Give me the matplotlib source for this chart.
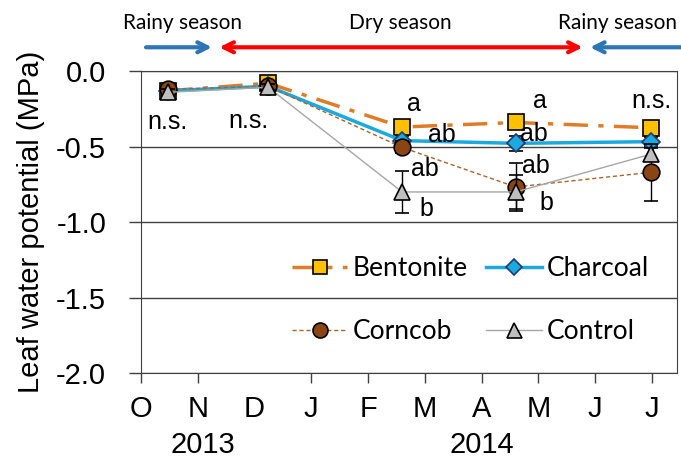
import numpy as np
import matplotlib.pyplot as plt
import matplotlib.transforms as mtransforms

# sampling dates, in months counted from 1 Oct 2013
meses_amostra = [0.48, 2.24, 4.6, 6.6, 8.98]

bentonite = [-0.13, -0.08, -0.37, -0.34, -0.375]
bentonite_err = [0.02, 0.02, 0.03, 0.03, 0.03]
charcoal = [-0.13, -0.10, -0.46, -0.478, -0.467]
charcoal_err = [0.02, 0.02, 0.03, 0.05, 0.03]
corncob = [-0.12, -0.10, -0.505, -0.767, -0.67]
corncob_err = [0.02, 0.02, 0.04, 0.16, 0.19]
control = [-0.14, -0.107, -0.80, -0.80, -0.55]
control_err = [0.02, 0.02, 0.14, 0.11, 0.04]

meses = ['O', 'N', 'D', 'J', 'F', 'M', 'A', 'M', 'J', 'J']
yticks = [0.0, -0.5, -1.0, -1.5, -2.0]

# letras de significancia: (x, y, texto)
letras = [
    (0.46, -0.34, 'n.s.'), (1.9, -0.33, 'n.s.'),
    (4.8, -0.22, 'a'), (5.3, -0.42, 'ab'), (5.0, -0.65, 'ab'), (5.03, -0.915, 'b'),
    (7.02, -0.195, 'a'), (6.92, -0.415, 'ab'), (6.95, -0.63, 'ab'), (7.14, -0.875, 'b'),
    (9.0, -0.2, 'n.s.'),
]

fig = plt.figure(figsize=(6.81, 4.59), dpi=100)
ax = fig.add_axes([0.207, 0.187, 0.787, 0.658])

ax.errorbar(meses_amostra, bentonite, yerr=bentonite_err, color='#E07B2A', lw=2.5,
            ls=(0, (7, 3, 1.5, 3)),
            marker='s', ms=11, mfc='#FFC000', mec='black', mew=1.2,
            ecolor='black', elinewidth=1, capsize=5, label='Bentonite', zorder=3)
ax.errorbar(meses_amostra, charcoal, yerr=charcoal_err, color='#1BA9E0', lw=2.5,
            marker='D', ms=9, mfc='#1BA9E0', mec='#1F3B70', mew=1.2,
            ecolor='black', elinewidth=1, capsize=5, label='Charcoal', zorder=4)
ax.errorbar(meses_amostra, corncob, yerr=corncob_err, color='#A8642A', lw=1, ls=(0, (3, 2)),
            marker='o', ms=12, mfc='#8B4513', mec='black', mew=1.2,
            ecolor='black', elinewidth=1, capsize=5, label='Corncob', zorder=5)
ax.errorbar(meses_amostra, control, yerr=control_err, color='#A6A6A6', lw=1,
            marker='^', ms=12, mfc='#BFBFBF', mec='black', mew=1.2,
            ecolor='black', elinewidth=1, capsize=5, label='Control', zorder=6)

for x, y, t in letras:
    ax.text(x, y, t, fontsize=18, ha='center', va='center', family='Liberation Sans', zorder=8)

ax.set_xlim(0, 9.44)
ax.set_ylim(-2.0, 0.0)
ax.set_yticks(yticks)
ax.set_yticklabels(['%.1f' % v if v == 0 else '-%.1f' % abs(v) for v in yticks],
                   fontsize=21, family='Liberation Sans')
ax.set_xticks(range(len(meses)))
ax.set_xticklabels(meses, fontsize=21, family='Liberation Sans')
ax.xaxis.get_major_ticks()[2].tick1line.set_visible(False)
ax.tick_params(axis='x', direction='out', length=7, width=1, color='#404040', pad=9)
ax.tick_params(axis='y', direction='out', length=9, width=1, color='#404040', pad=16)
for s in ax.spines.values():
    s.set_color('#404040')
ax.grid(axis='y', color='#404040', lw=1)

ax.set_ylabel('Leaf water potential (MPa)', fontsize=21, family='Liberation Sans', labelpad=8)

trans = mtransforms.blended_transform_factory(ax.transData, ax.transAxes)

# anos
ax.text(1.09, -0.237, '2013', transform=trans, fontsize=21, ha='center', va='center', family='Liberation Sans')
ax.text(6.0, -0.237, '2014', transform=trans, fontsize=21, ha='center', va='center', family='Liberation Sans')

# estacoes
azul = '#2E75B6'
vermelho = '#FF0000'
ax.annotate('', xy=(1.30, 1.079), xytext=(0.04, 1.079), xycoords=trans, textcoords=trans,
            arrowprops=dict(arrowstyle='->', color=azul, lw=3, mutation_scale=18),
            annotation_clip=False)
ax.annotate('', xy=(7.83, 1.079), xytext=(1.33, 1.079), xycoords=trans, textcoords=trans,
            arrowprops=dict(arrowstyle='<->', color=vermelho, lw=3, mutation_scale=18),
            annotation_clip=False)
ax.annotate('', xy=(7.86, 1.079), xytext=(9.6, 1.079), xycoords=trans, textcoords=trans,
            arrowprops=dict(arrowstyle='->', color=azul, lw=3, mutation_scale=18),
            annotation_clip=False)
ax.text(0.74, 1.16, 'Rainy season', transform=trans, fontsize=15, ha='center', va='center', family='Lato')
ax.text(4.56, 1.16, 'Dry season', transform=trans, fontsize=15, ha='center', va='center', family='Lato')
ax.text(8.40, 1.16, 'Rainy season', transform=trans, fontsize=15, ha='center', va='center', family='Lato')

# legenda: Bentonite/Charcoal na primeira linha, Corncob/Control na segunda
h, l = ax.get_legend_handles_labels()
ordem = [0, 2, 1, 3]
linhas = [h[i][0] for i in ordem]
nomes = [l[i] for i in ordem]
leg = ax.legend(linhas, nomes, ncol=2, frameon=False, loc='center left',
                bbox_to_anchor=(0.262, 0.242), borderaxespad=0, markerscale=0.9,
                prop={'family': 'Lato', 'size': 19},
                handlelength=2.1, labelspacing=1.45, columnspacing=0.7, handletextpad=0.2)

fig.savefig('out.png', dpi=100)
